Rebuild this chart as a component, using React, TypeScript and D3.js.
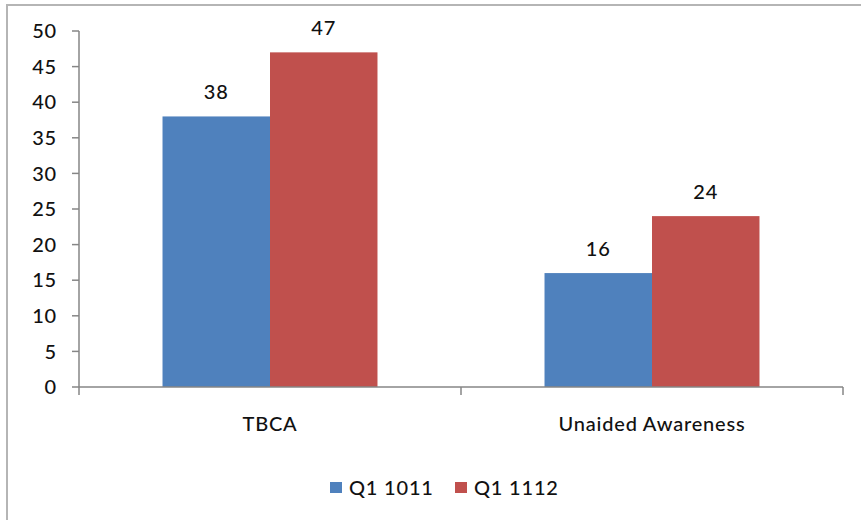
import React from "react";
import * as d3 from "d3";

const categories = ["TBCA", "Unaided Awareness"];
const seriesNames = ["Q1 1011", "Q1 1112"];
const seriesA = [38, 16];
const seriesB = [47, 24];
const yTicks = [0, 5, 10, 15, 20, 25, 30, 35, 40, 45, 50];
const colors = ["#4F81BD", "#C0504D"];

export default function App() {
  const W = 861, H = 520;
  const left = 79, right = 843, top = 31, bottom = 387;
  const y = d3.scaleLinear().domain([0, 50]).range([bottom, top]);
  const x0 = d3.scaleBand<string>().domain(categories).range([left, right]).paddingInner(0).paddingOuter(0);
  const x1 = d3.scaleBand<string>().domain(seriesNames).range([0, x0.bandwidth()]).paddingInner(0).paddingOuter(0.777);
  const series = [seriesA, seriesB];
  const font = "Lato, 'Open Sans', sans-serif";
  const axisColor = "#868686";
  const textColor = "#111";
  const fs = 20;
  const fw = 500;
  const ls = 0.8;
  return (
    <svg width={W} height={H} style={{ position: "absolute", left: 0, top: 0, background: "#fff" }} fontFamily={font} letterSpacing={ls}>
      <rect x={7} y={5} width={W + 10} height={H + 10} fill="#fff" stroke="#b5b5b5" strokeWidth={2} />
      {/* bars */}
      {categories.map((c, ci) =>
        series.map((s, si) => (
          <rect key={c + si} x={(x0(c) ?? 0) + (x1(seriesNames[si]) ?? 0)} y={y(s[ci])} width={x1.bandwidth()} height={bottom - y(s[ci])} fill={colors[si]} />
        ))
      )}
      {/* value labels */}
      {categories.map((c, ci) =>
        series.map((s, si) => (
          <text key={"l" + c + si} x={(x0(c) ?? 0) + (x1(seriesNames[si]) ?? 0) + x1.bandwidth() / 2} y={y(s[ci]) - 17} textAnchor="middle" fontSize={fs} fontWeight={fw} fill={textColor}>
            {s[ci]}
          </text>
        ))
      )}
      {/* y axis */}
      <line x1={left} x2={left} y1={top} y2={bottom} stroke={axisColor} strokeWidth={1.5} />
      {yTicks.map((t) => (
        <g key={t}>
          <line x1={left - 7} x2={left} y1={y(t)} y2={y(t)} stroke={axisColor} strokeWidth={1.5} />
          <text x={57} y={y(t)} dy="0.36em" textAnchor="end" fontSize={fs} fontWeight={fw} fill={textColor}>{t}</text>
        </g>
      ))}
      {/* x axis */}
      <line x1={left} x2={right} y1={bottom} y2={bottom} stroke={axisColor} strokeWidth={1.5} />
      {[left, ...categories.map((c) => (x0(c) ?? 0) + x0.bandwidth())].map((tx, i) => (
        <line key={"xt" + i} x1={tx} x2={tx} y1={bottom} y2={bottom + 8} stroke={axisColor} strokeWidth={1.5} />
      ))}
      {categories.map((c) => (
        <text key={"c" + c} x={(x0(c) ?? 0) + x0.bandwidth() / 2} y={424} dy="0.36em" textAnchor="middle" fontSize={fs} fontWeight={fw} fill={textColor}>{c}</text>
      ))}
      {/* legend */}
      {seriesNames.map((n, i) => (
        <g key={n} transform={`translate(${330 + i * 125},0)`}>
          <rect x={0} y={482} width={12} height={11} fill={colors[i]} />
          <text x={19} y={488} dy="0.36em" fontSize={fs} fontWeight={fw} fill={textColor}>{n}</text>
        </g>
      ))}
    </svg>
  );
}
